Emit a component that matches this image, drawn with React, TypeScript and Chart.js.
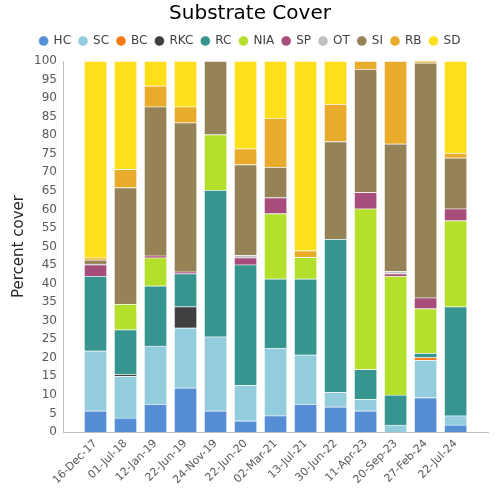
import React, { useEffect, useRef } from "react";
import { Chart, registerables } from "chart.js";

Chart.register(...registerables);

const categories = ["16-Dec-17", "01-Jul-18", "12-Jan-19", "22-Jun-19", "24-Nov-19", "22-Jun-20", "02-Mar-21", "13-Jul-21", "30-Jun-22", "11-Apr-23", "20-Sep-23", "27-Feb-24", "22-Jul-24"];

const HC = [5.7, 3.8, 7.5, 11.9, 5.7, 3.0, 4.4, 7.5, 6.8, 5.7, 0, 9.3, 1.9];
const SC = [16.2, 11.3, 15.7, 16.2, 20.0, 9.6, 18.2, 13.3, 3.9, 3.1, 1.9, 10.1, 2.5];
const BC = [0, 0, 0, 0, 0, 0, 0, 0, 0, 0, 0, 0.7, 0];
const RKC = [0, 0.5, 0, 5.7, 0, 0, 0, 0, 0, 0, 0, 0, 0];
const RC = [20.1, 12.0, 16.2, 8.9, 39.5, 32.5, 18.7, 20.5, 41.3, 8.1, 8.1, 1.2, 29.4];
const NIA = [0, 6.9, 7.6, 0, 15.0, 0, 17.6, 5.8, 0, 43.3, 32.0, 12.0, 23.2];
const SP = [3.1, 0, 0.5, 0.5, 0, 1.9, 4.3, 0, 0, 4.4, 0.7, 2.9, 3.2];
const OT = [0.2, 0, 0, 0, 0, 0.7, 0, 0, 0, 0, 0.6, 0, 0];
const SI = [1.1, 31.4, 40.2, 40.2, 19.8, 24.4, 8.2, 0, 26.3, 33.2, 34.4, 63.3, 13.7];
const RB = [0.6, 4.9, 5.6, 4.3, 0, 4.3, 13.2, 1.8, 10.1, 2.2, 22.3, 0.5, 1.3];
const SD = [53.0, 29.2, 6.7, 12.3, 0, 23.6, 15.4, 51.1, 11.6, 0, 0, 0, 24.8];

const seriesNames = ["HC", "SC", "BC", "RKC", "RC", "NIA", "SP", "OT", "SI", "RB", "SD"];
const seriesValues = [HC, SC, BC, RKC, RC, NIA, SP, OT, SI, RB, SD];
const seriesColors = ["#558ED5", "#93CDDD", "#F67A16", "#404040", "#36958F", "#B4E02C", "#A64D7C", "#BFBFBF", "#958357", "#E9AB2B", "#FFDF1A"];

const FONT = "'DejaVu Sans', Verdana, sans-serif";

const legendGap = {
  id: "legendGap",
  beforeLayout(chart: any) {
    const lg = chart.legend;
    if (lg && !lg.__gapPatched) {
      const orig = lg.fit;
      lg.fit = function () {
        orig.call(this);
        this.height += 4;
      };
      lg.__gapPatched = true;
    }
  },
};

export default function App() {
  const ref = useRef<HTMLCanvasElement | null>(null);

  useEffect(() => {
    if (!ref.current) return;
    const datasets = seriesNames.map((name, i) => ({
      label: name,
      data: seriesValues[i].map((v, j) => ({ x: j, y: v > 0 ? v : null })),
      backgroundColor: seriesColors[i],
      borderColor: "rgba(255,255,255,0.35)",
      borderWidth: 1,
      barThickness: 23,
    }));

    const chart = new Chart(ref.current, {
      type: "bar",
      data: { datasets },
      plugins: [legendGap],
      options: {
        animation: false,
        responsive: true,
        maintainAspectRatio: false,
        layout: { padding: { left: 8, right: 8, top: 2, bottom: 0 } },
        plugins: {
          tooltip: { enabled: false },
          title: {
            display: true,
            text: "Substrate Cover",
            color: "#000",
            font: { family: FONT, size: 20, weight: "normal", lineHeight: 1 },
            padding: { top: 2, bottom: 3 },
          },
          legend: {
            display: true,
            position: "top",
            labels: {
              usePointStyle: true,
              pointStyle: "circle",
              boxWidth: 8,
              boxHeight: 7,
              padding: 8,
              color: "#404040",
              font: { family: FONT, size: 12 },
            },
          },
        },
        scales: {
          x: {
            type: "linear",
            stacked: true,
            offset: false,
            min: -1.084,
            max: 13.084,
            grid: { display: false, drawTicks: false, offset: false },
            border: { display: true, color: "#BFBFBF" },
            afterFit(s: any) {
              s.height = 68;
            },
            ticks: {
              stepSize: 1,
              includeBounds: false,
              autoSkip: false,
              maxRotation: 45,
              minRotation: 45,
              padding: 5,
              color: "#595959",
              font: { family: FONT, size: 11 },
              callback: (v: any) => (Number.isInteger(v) && v >= 0 && v < categories.length ? categories[v] : ""),
            },
          },
          y: {
            stacked: true,
            min: 0,
            max: 100,
            grid: { display: false, drawTicks: false },
            border: { display: true, color: "#BFBFBF" },
            afterFit(s: any) {
              s.width = 55;
            },
            ticks: {
              stepSize: 5,
              padding: 6,
              color: "#595959",
              font: { family: FONT, size: 12 },
            },
            title: {
              display: true,
              text: "Percent cover",
              color: "#262626",
              font: { family: FONT, size: 15 },
              padding: { top: 2, bottom: 0 },
            },
          },
        },
      },
    });
    return () => chart.destroy();
  }, []);

  return (
    <div style={{ position: "absolute", left: 0, top: 0, width: 500, height: 500 }}>
      <canvas ref={ref} />
    </div>
  );
}
